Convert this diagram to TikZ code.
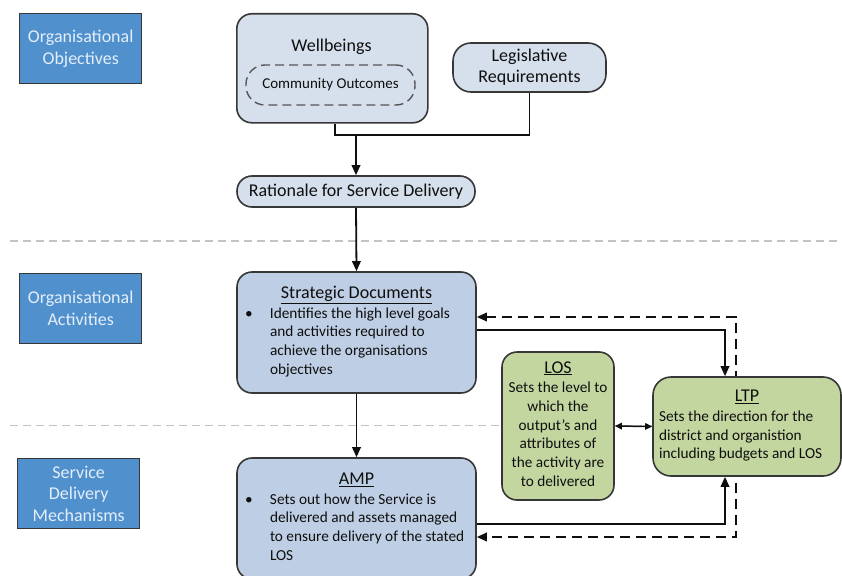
\documentclass[tikz,border=0pt]{standalone}
\usepackage{fontspec}
\setmainfont{Carlito}
\usetikzlibrary{arrows.meta,calc}
\pgfdeclarelayer{bg}
\pgfsetlayers{bg,main}
\definecolor{lbox}{RGB}{214,224,236}
\definecolor{mbox}{RGB}{190,206,228}
\definecolor{gbox}{RGB}{196,214,160}
\definecolor{sbox}{RGB}{80,145,205}
\definecolor{stxt}{RGB}{228,238,250}
\definecolor{bord}{RGB}{55,55,55}
\definecolor{sepc}{RGB}{195,195,195}
\definecolor{ink}{RGB}{15,15,15}
\tikzset{
  side/.style={draw=bord, fill=sbox, text=stxt, line width=1.4pt, minimum width=122pt, minimum height=70pt, inner sep=0pt, align=center, font=\fontsize{18}{22}\selectfont, anchor=north west},
  rbox/.style={draw=bord, line width=1.6pt, rounded corners=15pt, inner sep=0pt, text=ink},
  body/.style={font=\fontsize{15.3}{18.7}\selectfont},
  tip/.tip={Triangle[length=10pt,width=8.5pt]},
  stip/.tip={Triangle[length=7pt,width=6.5pt]},
  conn/.style={draw=ink, line width=1.8pt, -tip},
  plain/.style={draw=ink, line width=1.8pt},
  dconn/.style={draw=ink, line width=1.8pt, dash pattern=on 10pt off 6pt, tip-tip},
  sepline/.style={draw=sepc, line width=1.6pt, dash pattern=on 8pt off 5pt}
}
\newcommand{\ttl}[1]{{\fontsize{18}{20}\selectfont\underline{#1}}}
\begin{document}
\begin{tikzpicture}[x=1pt, y=-1pt]
\useasboundingbox (0,0) rectangle (842,575);
\clip (0,0) rectangle (842,575);

% side labels
\node[side] (oo) at (19,13) {Organisational\\Objectives};
\node[side] (oa) at (19,273) {Organisational\\Activities};
\node[side, font=\fontsize{18}{21.5}\selectfont] (sd) at (17,458) {Service\\Delivery\\Mechanisms};

% objectives
\node[rbox, fill=lbox, minimum width=191pt, minimum height=109pt, anchor=north west] (wb) at (236,13) {};
\node[text=ink, font=\fontsize{18}{22}\selectfont, inner sep=0pt] (wbt) at (331.5,47) {Wellbeings};
\node[draw=bord!85, line width=1.4pt, dash pattern=on 9pt off 5pt, rounded corners=19pt, minimum width=169pt, minimum height=40pt, inner sep=0pt, text=ink, font=\fontsize{15}{18}\selectfont] (co) at (330.5,85) {Community Outcomes};
\node[rbox, fill=lbox, rounded corners=18pt, minimum width=153pt, minimum height=49pt, align=center, font=\fontsize{18}{21}\selectfont] (leg) at (529.5,67.5) {Legislative\\Requirements};
\node[rbox, fill=lbox, minimum width=238pt, minimum height=31pt, font=\fontsize{18}{21}\selectfont] (rat) at (356,191.5) {Rationale for Service Delivery};

% activities
\node[rbox, fill=mbox, minimum width=239pt, minimum height=121pt, body] (strat) at (356.5,332.5) {\begin{tabular}{@{}p{25pt}@{}p{198pt}@{}}\multicolumn{2}{@{}c@{}}{\ttl{Strategic Documents}}\\[1pt]
\textbullet & Identifies the high level goals\\
 & and activities required to\\
 & achieve the organisations\\
 & objectives\end{tabular}};
\node[rbox, fill=mbox, minimum width=239pt, minimum height=121pt, body] (amp) at (356.5,518.5) {\begin{tabular}{@{}p{25pt}@{}p{198pt}@{}}\multicolumn{2}{@{}c@{}}{\ttl{AMP}}\\[1pt]
\textbullet & Sets out how the Service is\\
 & delivered and assets managed\\
 & to ensure delivery of the stated\\
 & LOS\end{tabular}};
\node[rbox, fill=gbox, minimum width=112pt, minimum height=148pt, body] (los) at (558,426) {\begin{tabular}{@{}c@{}}\ttl{LOS}\\[1pt]
Sets the level to\\ which the\\ output’s and\\ attributes of\\ the activity are\\ to delivered\end{tabular}};
\node[rbox, fill=gbox, rounded corners=18pt, minimum width=188pt, minimum height=99pt, body] (ltp) at (747,426.5) {\begin{tabular}{@{}p{176pt}@{}}\multicolumn{1}{@{}c@{}}{\ttl{LTP}}\\[1pt]
Sets the direction for the\\ district and organistion\\ including budgets and LOS\end{tabular}};

% background: separators and dashed feedback
\begin{pgfonlayer}{bg}
\coordinate (s1a) at (10,241); \coordinate (s1b) at (840,241);
\coordinate (s2a) at (10,425.5); \coordinate (s2b) at (840,425.5);
\draw[sepline] (s1a) -- (s1b);
\draw[sepline] (s2a) -- (s2b);
\draw[dconn] ([yshift=15.5pt]strat.east) -| ([xshift=-11pt]ltp.center) |- ([yshift=-18.5pt]amp.east);
\end{pgfonlayer}

% connectors
\coordinate (j) at ($(rat.north)+(0,-40)$);
\draw[plain] ([xshift=2.5pt]wb.south) |- (j);
\draw[plain] (leg.south) |- (j);
\draw[conn] (j) -- (rat.north);
\draw[conn] (rat.south) -- (strat.north);
\draw[conn] (strat.south) -- (amp.north);
\draw[conn] ([yshift=2.5pt]strat.east) -| ([xshift=-22pt]ltp.north);
\draw[conn] ([yshift=-5.5pt]amp.east) -| ([xshift=-22pt]ltp.south);
\draw[draw=ink, line width=1.5pt, stip-stip] (los.east) -- (ltp.west);
\end{tikzpicture}
\end{document}
